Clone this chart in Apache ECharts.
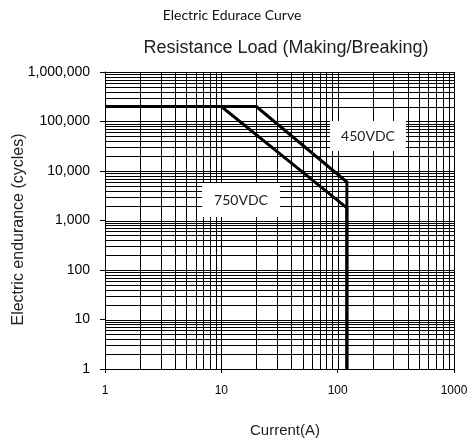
<!DOCTYPE html>
<html>
<head>
<meta charset="utf-8">
<script src="https://cdn.jsdelivr.net/npm/echarts@6/dist/echarts.min.js"></script>
<style>
  html, body { margin: 0; padding: 0; background: #fff; }
  #chart { width: 467px; height: 441px; }
</style>
</head>
<body>
<div id="chart"></div>
<script>
// Endurance curves: current (A) vs. number of operations
const current450 = [1, 20, 120, 120];
const cycles450 = [200000, 200000, 6000, 1];
const current750 = [1, 10, 120, 120];
const cycles750 = [200000, 200000, 1800, 1];

// Axis tick labels, one per decade
const xTickLabels = ['1', '10', '100', '1000'];
const yTickLabels = ['1', '10', '100', '1,000', '10,000', '100,000', '1,000,000'];

// Log-paper grid: lines at 1..9 within each decade
const xDecades = [1, 10, 100];
const yDecades = [1, 10, 100, 1000, 10000, 100000];
const steps = [1, 2, 3, 4, 5, 6, 7, 8, 9];

const X_MIN = 1, X_MAX = 1000, Y_MIN = 1, Y_MAX = 1000000;

function gridValues(decades, last) {
  const out = [];
  decades.forEach(d => steps.forEach(s => out.push(d * s)));
  out.push(last);
  return out;
}

function gridSeries(values, vertical) {
  return {
    type: 'custom',
    silent: true,
    z: 1,
    clip: false,
    data: values.map(v => (vertical ? [v, Y_MIN] : [X_MIN, v])),
    encode: { x: 0, y: 1 },
    renderItem: function (params, api) {
      const v = api.value(vertical ? 0 : 1);
      let shape;
      if (vertical) {
        const a = api.coord([v, Y_MIN]);
        const b = api.coord([v, Y_MAX]);
        const x = Math.round(a[0]) + 0.5;
        shape = { x1: x, y1: Math.round(b[1]), x2: x, y2: Math.round(a[1]) };
      } else {
        const a = api.coord([X_MIN, v]);
        const b = api.coord([X_MAX, v]);
        const y = Math.round(a[1]) + 0.5;
        shape = { x1: Math.round(a[0]), y1: y, x2: Math.round(b[0]), y2: y };
      }
      return { type: 'line', shape: shape, style: { stroke: '#000', lineWidth: 1 } };
    }
  };
}

function curve(xs, ys) {
  return {
    type: 'line',
    data: xs.map((x, i) => [x, ys[i]]),
    symbol: 'none',
    silent: true,
    z: 5,
    lineStyle: { color: '#000', width: 3, join: 'miter' }
  };
}

const decadeIndex = v => Math.round(Math.log10(v));

const chart = echarts.init(document.getElementById('chart'), null, { renderer: 'canvas' });
chart.setOption({
  animation: false,
  backgroundColor: '#fff',
  grid: { left: 105, right: 13, top: 72, bottom: 72, containLabel: false, outerBoundsMode: 'none' },
  xAxis: {
    type: 'log', logBase: 10, min: X_MIN, max: X_MAX, splitNumber: 3,
    name: 'Current(A)', nameLocation: 'middle', nameGap: 54, nameMoveOverlap: false,
    nameTextStyle: { fontFamily: 'Liberation Sans', fontSize: 15, color: '#222', padding: [0, 0, 0, 11] },
    axisLine: { lineStyle: { color: '#000', width: 1 } },
    axisTick: { show: true, length: 4, lineStyle: { color: '#000' } },
    axisLabel: {
      margin: 16, fontFamily: 'Liberation Sans', fontSize: 12, color: '#000',
      formatter: v => xTickLabels[decadeIndex(v)]
    },
    splitLine: { show: false }, minorTick: { show: false }, minorSplitLine: { show: false }
  },
  yAxis: {
    type: 'log', logBase: 10, min: Y_MIN, max: Y_MAX, splitNumber: 6,
    name: 'Electric endurance (cycles)', nameLocation: 'middle', nameGap: 78, nameMoveOverlap: false,
    nameTextStyle: { fontFamily: 'Liberation Sans', fontSize: 16, color: '#222', padding: [0, 18, 0, 0] },
    axisLine: { lineStyle: { color: '#000', width: 1 } },
    axisTick: { show: true, length: 5, lineStyle: { color: '#000' } },
    axisLabel: {
      margin: 15, fontFamily: 'Liberation Sans', fontSize: 14, color: '#000',
      formatter: v => yTickLabels[decadeIndex(v)]
    },
    splitLine: { show: false }, minorTick: { show: false }, minorSplitLine: { show: false }
  },
  graphic: [
    {
      type: 'text', z: 10, silent: true,
      style: { text: 'Electric Edurace Curve', x: 232, y: 15, align: 'center', verticalAlign: 'middle',
               font: '14px Lato', fill: '#111' }
    },
    {
      type: 'text', z: 10, silent: true,
      style: { text: 'Resistance Load (Making/Breaking)', x: 286, y: 48, align: 'center', verticalAlign: 'middle',
               font: '18px "Liberation Sans"', fill: '#222' }
    },
    {
      type: 'text', z: 10, silent: true,
      style: { text: '450VDC', x: 368, y: 136, align: 'center', verticalAlign: 'middle',
               font: '14px Lato', fill: '#222', backgroundColor: '#fff', padding: [8, 11, 8, 11] }
    },
    {
      type: 'text', z: 10, silent: true,
      style: { text: '750VDC', x: 241, y: 200, align: 'center', verticalAlign: 'middle',
               font: '14px Lato', fill: '#222', backgroundColor: '#fff', padding: [10, 12, 10, 12] }
    }
  ],
  series: [
    gridSeries(gridValues(xDecades, X_MAX), true),
    gridSeries(gridValues(yDecades, Y_MAX), false),
    curve(current450, cycles450),
    curve(current750, cycles750)
  ]
});
</script>
</body>
</html>
